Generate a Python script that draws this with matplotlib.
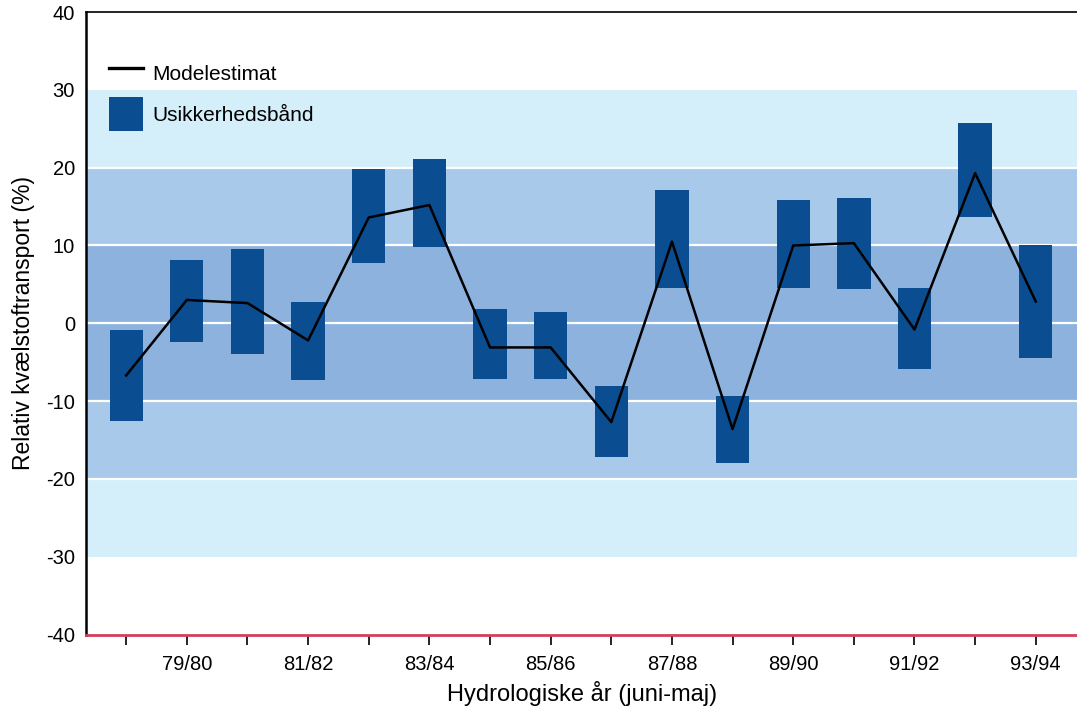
import numpy as np
import matplotlib.pyplot as plt
from matplotlib.patches import Patch
from matplotlib.lines import Line2D

plt.rcParams['font.family'] = ['Liberation Sans', 'DejaVu Sans']
plt.rcParams['axes.unicode_minus'] = False

# data
years = ["78/79", "79/80", "80/81", "81/82", "82/83", "83/84", "84/85", "85/86",
         "86/87", "87/88", "88/89", "89/90", "90/91", "91/92", "92/93", "93/94"]
estimate = [-6.7, 3.0, 2.6, -2.2, 13.6, 15.2, -3.1, -3.1,
            -12.7, 10.5, -13.6, 10.0, 10.3, -0.8, 19.3, 2.8]
band_high = [-0.8, 8.1, 9.5, 2.8, 19.8, 21.1, 1.9, 1.4,
             -8.1, 17.1, -9.3, 15.9, 16.1, 4.6, 25.7, 10.0]
band_low = [-12.5, -2.4, -4.0, -7.3, 7.8, 9.8, -7.2, -7.2,
            -17.2, 4.6, -18.0, 4.6, 4.4, -5.9, 13.6, -4.4]

x = np.arange(len(years))
low = np.array(band_low)
high = np.array(band_high)

fig = plt.figure(figsize=(10.77, 7.09), dpi=100)
ax = fig.add_axes([0.080, 0.105, 0.92, 0.878])

# background bands
ax.axhspan(-30, 30, color="#d4effa", zorder=0, lw=0)
ax.axhspan(-20, 20, color="#a8c9ea", zorder=0, lw=0)
ax.axhspan(-10, 10, color="#8db2de", zorder=0, lw=0)
for yv in [-20, -10, 0, 10, 20]:
    ax.axhline(yv, color="white", lw=1.6, zorder=1)

# uncertainty bands and model estimate
ax.bar(x, high - low, bottom=low, width=0.55, color="#0a4d91", zorder=2)
ax.plot(x, estimate, color="black", lw=1.8, zorder=3)

ax.set_xlim(-0.66, 15.68)
ax.set_ylim(-40, 40)
ax.set_yticks(range(-40, 41, 10))
ax.set_xticks(x)
ax.set_xticklabels([y if i % 2 == 1 else "" for i, y in enumerate(years)])
ax.tick_params(axis="y", length=0, labelsize=14.5, pad=8)
ax.tick_params(axis="x", length=7, width=1.2, labelsize=14.5, pad=8)

ax.spines["right"].set_visible(False)
ax.spines["left"].set_linewidth(1.8)
ax.spines["top"].set_linewidth(1.2)
ax.spines["bottom"].set_color("#d0405a")
ax.spines["bottom"].set_linewidth(2)

ax.set_xlabel("Hydrologiske år (juni-maj)", fontsize=17, labelpad=5)
ax.set_ylabel("Relativ kvælstoftransport (%)", fontsize=16.5, labelpad=8)

handles = [Line2D([0], [0], color="black", lw=2.4),
           Patch(facecolor="#0a4d91")]
leg = ax.legend(handles, ["Modelestimat", "Usikkerhedsbånd"], loc="upper left",
                bbox_to_anchor=(0.015, 0.942), frameon=False, fontsize=15,
                handlelength=1.6, handleheight=2.1, handletextpad=0.45,
                labelspacing=0.35, borderaxespad=0)

fig.savefig("out.png", dpi=100)
